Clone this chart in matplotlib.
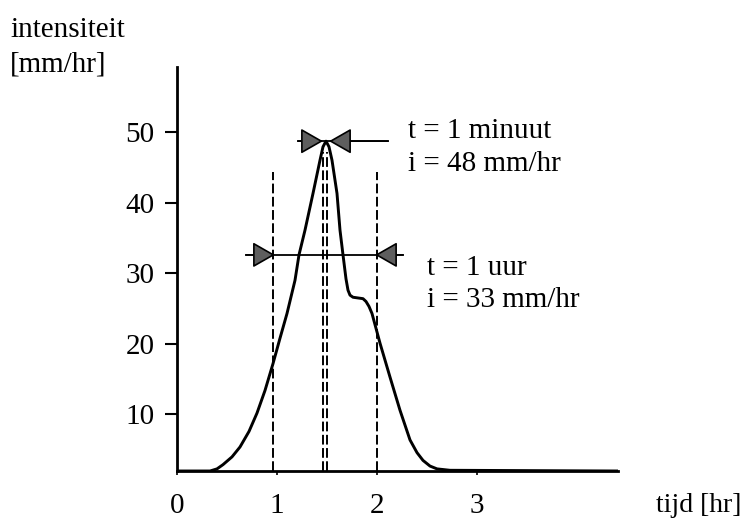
import matplotlib
matplotlib.use("Agg")
import matplotlib.pyplot as plt

# ---- data ----
time_hr = [0.00, 0.33, 0.40, 0.46, 0.55, 0.63, 0.72, 0.80, 0.88, 0.96, 1.03, 1.10,
           1.18, 1.22, 1.28, 1.36, 1.43, 1.46, 1.49, 1.52, 1.55, 1.60, 1.63, 1.66,
           1.69, 1.71, 1.73, 1.76, 1.81, 1.86, 1.89, 1.92, 1.95, 1.99, 2.03, 2.08,
           2.13, 2.23, 2.33, 2.40, 2.46, 2.53, 2.60, 2.73, 4.41]
intensity = [2.0, 2.0, 2.3, 2.9, 4.0, 5.4, 7.6, 10.2, 13.4, 17.2, 20.8, 24.3,
             29.0, 32.6, 36.1, 41.3, 46.0, 47.9, 48.7, 47.9, 46.0, 41.3, 36.1, 32.6,
             29.2, 27.6, 26.9, 26.6, 26.5, 26.4, 26.0, 25.3, 24.3, 22.2, 20.1, 17.7,
             15.3, 10.6, 6.4, 4.6, 3.5, 2.7, 2.3, 2.1, 2.0]

dashed_x = [0.96, 1.46, 1.50, 2.00]
dashed_top = [44.3, 47.1, 47.1, 44.3]

peak_level = 48.7
peak_arrow_tails = [1.21, 2.11]
peak_arrow_tips = [1.46, 1.52]

hour_level = 32.6
hour_arrow_tails = [0.69, 2.26]
hour_arrow_tips = [0.98, 1.98]

x_ticks = [0, 1, 2, 3]
x_ticklabels = ["0", "1", "2", "3"]
y_ticks = [10, 20, 30, 40, 50]
y_ticklabels = ["10", "20", "30", "40", "50"]

annot_minute = ["t = 1 minuut", "i = 48 mm/hr"]
annot_hour = ["t = 1 uur", "i = 33 mm/hr"]

plt.rcParams['font.family'] = ['Liberation Serif', 'DejaVu Serif']
FS = 21

fig = plt.figure(figsize=(7.45, 5.25), dpi=100)
ax = fig.add_axes([177/745, 1 - 471/525, (618 - 177)/745, (471 - 67)/525])

ax.plot(time_hr, intensity, color='black', lw=2.1, solid_joinstyle='round')

y0 = 2.0
for xv, top in zip(dashed_x, dashed_top):
    ax.plot([xv, xv], [y0, top], color='black', lw=1.4, dashes=(5, 1.8))

arrow_style = '-|>,head_length=1.4,head_width=0.8'
def arrowhead(tail, tip, y):
    ax.annotate('', xy=(tip, y), xytext=(tail, y),
                arrowprops=dict(arrowstyle=arrow_style, mutation_scale=10,
                                facecolor='#5e5e5e', edgecolor='black', lw=1.2,
                                shrinkA=0, shrinkB=0))

ax.plot([min(peak_arrow_tails), max(peak_arrow_tails)], [peak_level]*2, color='black', lw=1.3)
for tail, tip in zip(peak_arrow_tails, peak_arrow_tips):
    arrowhead(tail, tip, peak_level)

ax.plot([min(hour_arrow_tails), max(hour_arrow_tails)], [hour_level]*2, color='black', lw=1.3)
for tail, tip in zip(hour_arrow_tails, hour_arrow_tips):
    arrowhead(tail, tip, hour_level)

ax.text(2.31, 50.2, annot_minute[0], fontsize=FS, va='center', ha='left')
ax.text(2.31, 45.4, annot_minute[1], fontsize=FS, va='center', ha='left')
ax.text(2.50, 30.7, annot_hour[0], fontsize=FS, va='center', ha='left')
ax.text(2.50, 26.2, annot_hour[1], fontsize=FS, va='center', ha='left')

ax.set_xlim(0, 4.41)
ax.set_ylim(2.0, 59.2)
ax.set_xticks(x_ticks)
ax.set_xticklabels(x_ticklabels, fontsize=FS)
ax.set_yticks(y_ticks)
ax.set_yticklabels(y_ticklabels, fontsize=FS)
ax.tick_params(axis='x', direction='out', length=3, width=1.2, pad=13)
ax.tick_params(axis='y', direction='out', length=9, width=1.5, pad=7)

for s in ['top', 'right']:
    ax.spines[s].set_visible(False)
ax.spines['left'].set_linewidth(2.0)
ax.spines['bottom'].set_linewidth(2.0)
ax.patch.set_alpha(0)

fig.text(10/745, 1 - 30/525, "intensiteit", fontsize=FS, va='center', ha='left')
fig.text(10/745, 1 - 64/525, "[mm/hr]", fontsize=FS, va='center', ha='left')
fig.text(741/745, 1 - 505/525, "tijd [hr]", fontsize=20, va='center', ha='right')

fig.savefig("out.png", dpi=100)
